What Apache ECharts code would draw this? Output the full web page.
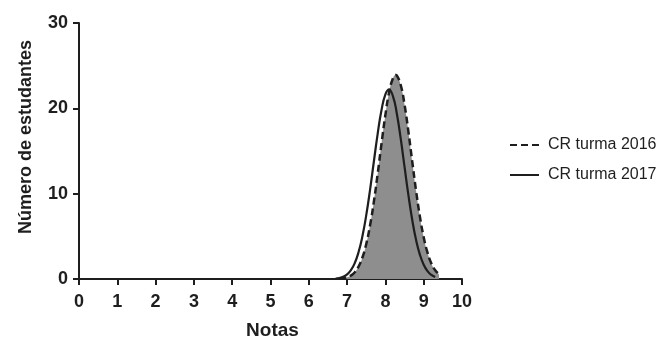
<!DOCTYPE html>
<html>
<head>
<meta charset="utf-8">
<script src="https://cdn.jsdelivr.net/npm/echarts@6/dist/echarts.min.js"></script>
<style>html,body{margin:0;padding:0;background:#fff}#c{width:667px;height:343px}</style>
</head>
<body>
<div id="c"></div>
<script>
const xTicks = [0,1,2,3,4,5,6,7,8,9,10];
const yTicks = [0,10,20,30];
const seriesNames = ['CR turma 2016', 'CR turma 2017'];
const xTitle = 'Notas';
const yTitle = 'Número de estudantes';

const x2016 = [6.8,6.9,7.0,7.1,7.2,7.3,7.4,7.5,7.6,7.7,7.8,7.9,8.0,8.1,8.2,8.27,8.3,8.4,8.5,8.6,8.7,8.8,8.9,9.0,9.1,9.2,9.3,9.4];
const y2016 = [0.04,0.09,0.20,0.41,0.79,1.46,2.52,4.10,6.29,9.09,12.39,15.91,19.24,21.93,23.55,23.9,23.84,22.73,20.42,17.29,13.79,10.37,7.34,4.90,3.08,1.82,1.02,0.54];

const x2017 = [6.7,6.8,6.9,7.0,7.1,7.2,7.3,7.4,7.5,7.6,7.7,7.8,7.9,8.0,8.09,8.2,8.3,8.4,8.5,8.6,8.7,8.8,8.9,9.0,9.1,9.2,9.3];
const y2017 = [0.05,0.12,0.27,0.54,1.04,1.87,3.16,5.01,7.48,10.48,13.80,17.07,19.83,21.64,22.2,21.38,19.34,16.44,13.13,9.85,6.94,4.59,2.86,1.67,0.92,0.47,0.23];

const pair = (xs, ys) => xs.map((x, i) => [x, ys[i]]);
const font = 'Liberation Sans, Arial, sans-serif';
const ink = '#1e1e1e';

const chart = echarts.init(document.getElementById('c'), null, {renderer: 'canvas'});
chart.setOption({
  animation: false,
  backgroundColor: '#fff',
  grid: {left: 79, right: 205, top: 23, bottom: 64, containLabel: false, outerBoundsMode: 'none'},
  graphic: [{
    type: 'text', left: 17, top: 40,
    style: {text: yTitle, font: 'bold 18px ' + font, fill: ink},
    rotation: Math.PI / 2, originX: 0, originY: 0
  }],
  legend: {
    orient: 'vertical',
    left: 504, top: 132,
    itemWidth: 29, itemHeight: 10, itemGap: 14,
    itemStyle: {opacity: 0},
    textStyle: {fontFamily: font, fontSize: 16, color: ink, padding: [0, 0, 0, 4]},
    data: seriesNames
  },
  xAxis: {
    type: 'value', min: 0, max: 10, interval: 1,
    name: xTitle, nameLocation: 'middle', nameGap: 42,
    nameTextStyle: {fontFamily: font, fontSize: 19, fontWeight: 'bold', color: ink, padding: [0, 0, 0, 4]},
    axisLine: {show: true, onZero: false, lineStyle: {color: ink, width: 2}},
    axisTick: {show: true, length: 6, lineStyle: {color: ink, width: 2}},
    axisLabel: {fontFamily: font, fontSize: 18, fontWeight: 'bold', color: ink, margin: 14,
      formatter: v => xTicks.includes(v) ? String(v) : ''},
    splitLine: {show: false}
  },
  yAxis: {
    type: 'value', min: 0, max: 30, interval: 10,
    axisLine: {show: true, lineStyle: {color: ink, width: 2}},
    axisTick: {show: true, length: 6, lineStyle: {color: ink, width: 2}},
    axisLabel: {fontFamily: font, fontSize: 18, fontWeight: 'bold', color: ink, margin: 11,
      formatter: v => yTicks.includes(v) ? String(v) : ''},
    splitLine: {show: false}
  },
  series: [
    {
      name: seriesNames[0], type: 'line', smooth: true, symbol: 'none',
      data: pair(x2016, y2016),
      itemStyle: {color: ink},
      lineStyle: {color: ink, width: 2.5, type: [7, 4]},
      areaStyle: {color: '#8e8e8e', opacity: 1},
      z: 2
    },
    {
      name: seriesNames[1], type: 'line', smooth: true, symbol: 'none',
      data: pair(x2017, y2017),
      itemStyle: {color: ink},
      lineStyle: {color: ink, width: 2.2},
      z: 3
    }
  ]
});
</script>
</body>
</html>
